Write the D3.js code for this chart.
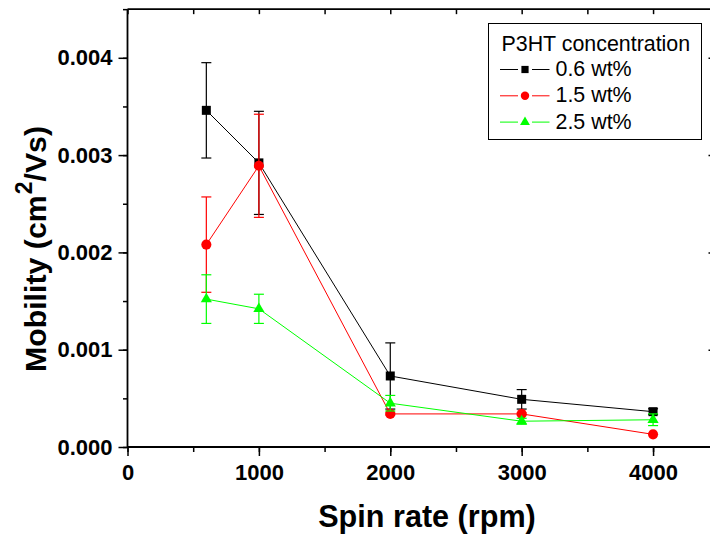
<!DOCTYPE html>
<html><head><meta charset="utf-8">
<script src="https://cdn.jsdelivr.net/npm/d3@7"></script>
<style>body{margin:0;background:#fff}svg{display:block}</style>
</head><body><svg id="c" width="710" height="538"></svg>
<script>
const spinRates = [600, 1000, 2000, 3000, 4000];
const seriesNames = ["0.6 wt%", "1.5 wt%", "2.5 wt%"];
const mob06 = [0.00346, 0.00292, 0.00073, 0.00049, 0.000363];
const err06 = [0.00049, 0.00053, 0.00034, 0.00010, 0.00003];
const mob15 = [0.00208, 0.00289, 0.00034, 0.00034, 0.00013];
const err15 = [0.00049, 0.00053, 0.00001, 0.00001, 0.0];
const mob25 = [0.00152, 0.00142, 0.00045, 0.000265, 0.00028];
const err25 = [0.00025, 0.00015, 0.00008, 0.00003, 0.00006];
const xTicks = [0, 1000, 2000, 3000, 4000];
const yTicks = [0, 0.001, 0.002, 0.003, 0.004];
const legendTitle = "P3HT concentration";

const colors = ["#000000", "#ff0000", "#00ff00"];
const symbols = [d3.symbolSquare, d3.symbolCircle, d3.symbolTriangle];
const symSizes = [81, 80, 54];
const legSizes = [52, 56, 42];
const series = [
  {name: seriesNames[0], vals: mob06, errs: err06},
  {name: seriesNames[1], vals: mob15, errs: err15},
  {name: seriesNames[2], vals: mob25, errs: err25}
];

const FONT = "'Liberation Sans', Arial, sans-serif";
const svg = d3.select("#c");
const x = d3.scaleLinear().domain([0, 4460]).range([127.5, 713.5]);
const y = d3.scaleLinear().domain([0, 0.0045]).range([447, 9.15]);

const minorX = d3.range(0, 4001, 500);
const minorY = d3.range(0, 0.00451, 0.0005);

// Left axis
const gL = svg.append("g").attr("transform", `translate(${x(0)},0)`);
gL.call(d3.axisLeft(y).tickValues(minorY).tickSize(4.5).tickFormat(""));
gL.append("g").call(d3.axisLeft(y).tickValues(yTicks).tickSize(9).tickPadding(6)
  .tickFormat(d3.format(".3f")));
// Bottom axis
const gB = svg.append("g").attr("transform", `translate(0,${y(0)})`);
gB.call(d3.axisBottom(x).tickValues(minorX).tickSize(5).tickFormat(""));
gB.append("g").call(d3.axisBottom(x).tickValues(xTicks).tickSize(9).tickPadding(8.5)
  .tickFormat(d3.format("d")));
// Top axis (inward)
svg.append("g").attr("transform", `translate(0,${y(0.0045)})`)
  .call(d3.axisTop(x).tickValues(minorX).tickSize(-5).tickFormat(""));
// Right axis (inward)
svg.append("g").attr("transform", `translate(${x(4460)},0)`)
  .call(d3.axisRight(y).tickValues(yTicks.slice(1)).tickSize(-5).tickFormat(""));

svg.selectAll(".domain").remove();
svg.selectAll(".tick line").attr("stroke", "#000").attr("stroke-width", 1.5);
svg.selectAll(".tick text").attr("font-family", FONT).attr("font-weight", "bold")
  .attr("font-size", 22).attr("fill", "#000");

// frame
const fr = svg.append("g").attr("stroke", "#000").attr("stroke-width", 1.8);
fr.append("line").attr("x1", x(0)).attr("x2", x(4460)).attr("y1", y(0)).attr("y2", y(0));
fr.append("line").attr("x1", x(0)).attr("x2", x(4460)).attr("y1", y(0.0045)).attr("y2", y(0.0045));
fr.append("line").attr("x1", x(0)).attr("x2", x(0)).attr("y1", y(0)).attr("y2", y(0.0045));
fr.append("line").attr("x1", x(4460)).attr("x2", x(4460)).attr("y1", y(0)).attr("y2", y(0.0045));

// series
const line = d3.line().x(d => x(d[0])).y(d => y(d[1]));
series.forEach((s, i) => {
  const pts = spinRates.map((r, j) => [r, s.vals[j], s.errs[j]]);
  const g = svg.append("g");
  g.append("path").datum(pts).attr("d", line).attr("fill", "none")
    .attr("stroke", colors[i]).attr("stroke-width", 1);
  const eb = g.append("g").attr("stroke", colors[i]).attr("stroke-width", 1.2);
  pts.filter(p => p[2] > 0).forEach(p => {
    const x0 = x(p[0]), yt = y(p[1] + p[2]), yb = y(p[1] - p[2]);
    eb.append("line").attr("x1", x0).attr("x2", x0).attr("y1", yt).attr("y2", yb);
    eb.append("line").attr("x1", x0 - 5).attr("x2", x0 + 5).attr("y1", yt).attr("y2", yt);
    eb.append("line").attr("x1", x0 - 5).attr("x2", x0 + 5).attr("y1", yb).attr("y2", yb);
  });
  g.selectAll("path.m").data(pts).enter().append("path").attr("class", "m")
    .attr("d", d3.symbol().type(symbols[i]).size(symSizes[i]))
    .attr("transform", d => `translate(${x(d[0])},${y(d[1])})`)
    .attr("fill", colors[i]);
});

// legend
const lg = svg.append("g");
lg.append("rect").attr("x", 488.5).attr("y", 23.5).attr("width", 213).attr("height", 116)
  .attr("fill", "#fff").attr("stroke", "#000").attr("stroke-width", 1);
lg.append("text").attr("x", 501.5).attr("y", 50.5).attr("font-family", FONT)
  .attr("font-size", 21.4).attr("fill", "#000").text(legendTitle);
series.forEach((s, i) => {
  const by = 76 + i * 26.3;
  const cy = by - 6.5;
  lg.append("line").attr("x1", 500).attr("x2", 518).attr("y1", cy).attr("y2", cy)
    .attr("stroke", colors[i]).attr("stroke-width", 1);
  lg.append("line").attr("x1", 532).attr("x2", 549.5).attr("y1", cy).attr("y2", cy)
    .attr("stroke", colors[i]).attr("stroke-width", 1);
  lg.append("path").attr("d", d3.symbol().type(symbols[i]).size(legSizes[i]))
    .attr("transform", `translate(525,${cy})`).attr("fill", colors[i]);
  lg.append("text").attr("x", 555.5).attr("y", by).attr("font-family", FONT)
    .attr("font-size", 21.4).attr("fill", "#000").text(s.name);
});

// axis titles
svg.append("text").attr("x", 427).attr("y", 527).attr("text-anchor", "middle")
  .attr("font-family", FONT).attr("font-weight", "bold").attr("font-size", 30.6)
  .attr("fill", "#000").text("Spin rate (rpm)");
const yt = svg.append("text").attr("transform", "translate(46,249) rotate(-90)")
  .attr("text-anchor", "middle").attr("font-family", FONT).attr("font-weight", "bold")
  .attr("font-size", 30.3).attr("fill", "#000");
yt.append("tspan").text("Mobility (cm");
yt.append("tspan").attr("font-size", 23).attr("dy", -14).attr("dx", 1).text("2");
yt.append("tspan").attr("dy", 14).text("/Vs)");
</script></body></html>
